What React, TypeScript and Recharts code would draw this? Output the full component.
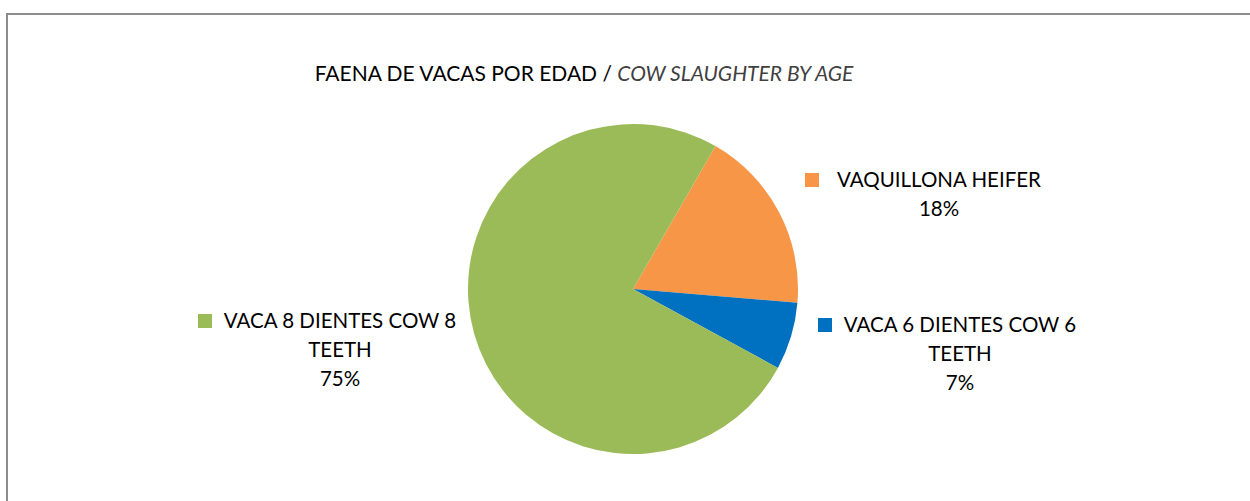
import { PieChart, Pie, Cell } from "recharts";

document.body.style.margin = "0";

const categories = ["VAQUILLONA HEIFER", "VACA 6 DIENTES COW 6 TEETH", "VACA 8 DIENTES COW 8 TEETH"];
const shares = [18, 6.6, 75.4];
const colors = ["#F79646", "#0070C0", "#9BBB59"];

// label layout relative to pie centre: text centre x, first baseline y, square left x
const labelLayout = [
  { dx: 306, dy: -102, sq: 172 },
  { dx: 327, dy: 43, sq: 185 },
  { dx: -293, dy: 39, sq: -435 },
];

const data = categories.map((name, i) => ({ name, value: shares[i] }));

const wrap = (s: string, max: number) => {
  const out: string[] = [];
  let cur = "";
  s.split(" ").forEach((w) => {
    const next = cur ? cur + " " + w : w;
    if (next.length > max && cur) {
      out.push(cur);
      cur = w;
    } else cur = next;
  });
  if (cur) out.push(cur);
  return out;
};

const renderLabel = (props: any) => {
  const { cx, cy, percent, index, name } = props;
  const l = labelLayout[index];
  const x = cx + l.dx;
  const y = cy + l.dy;
  const lines = [...wrap(name, 20), `${Math.round(percent * 100)}%`];
  return (
    <g>
      <rect x={cx + l.sq} y={y - 14} width={14} height={14} fill={colors[index]} />
      <text x={x} y={y} textAnchor="middle" fontFamily="Lato, sans-serif" fontSize={20.5} fill="#000">
        {lines.map((t, k) => (
          <tspan key={k} x={x} dy={k === 0 ? 0 : 29}>
            {t}
          </tspan>
        ))}
      </text>
    </g>
  );
};

export default function App() {
  return (
    <div style={{ position: "relative", width: 1250, height: 501, overflow: "hidden", background: "#fff" }}>
      <div
        style={{
          position: "absolute",
          left: 6,
          top: 13,
          width: 1300,
          height: 600,
          border: "2px solid #8c8c8c",
          boxSizing: "border-box",
        }}
      />
      <div
        style={{
          position: "absolute",
          left: 0,
          width: 1168,
          top: 60,
          textAlign: "center",
          fontFamily: "Lato, sans-serif",
          fontSize: 21,
          color: "#000",
          whiteSpace: "nowrap",
        }}
      >
        FAENA DE VACAS POR EDAD / <span style={{ fontStyle: "italic", color: "#404040" }}>COW SLAUGHTER BY AGE</span>
      </div>
      <div style={{ position: "absolute", left: 0, top: 0 }}>
        <PieChart width={1250} height={501} margin={{ top: 0, right: 0, bottom: 0, left: 0 }}>
          <Pie
            data={data}
            dataKey="value"
            nameKey="name"
            cx={633}
            cy={289}
            outerRadius={165}
            startAngle={60}
            endAngle={-300}
            stroke="none"
            label={renderLabel}
            labelLine={false}
            isAnimationActive={false}
          >
            {data.map((d, i) => (
              <Cell key={d.name} fill={colors[i]} />
            ))}
          </Pie>
        </PieChart>
      </div>
    </div>
  );
}
